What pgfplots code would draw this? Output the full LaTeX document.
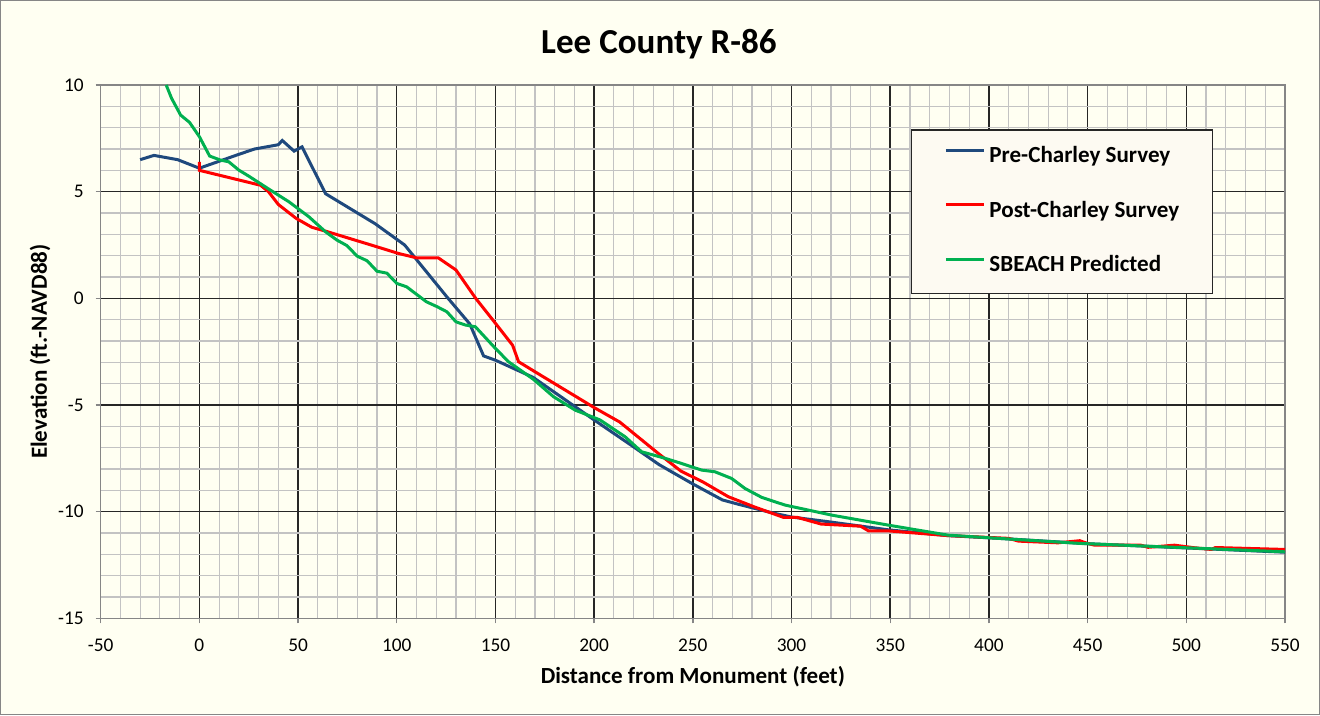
\documentclass[border=0pt]{standalone}
\usepackage{pgfplots}
\pgfplotsset{compat=1.18}
\usetikzlibrary{backgrounds}
\usepackage{fontspec}
\setmainfont{Carlito}
\definecolor{cream}{RGB}{255,255,242}
\definecolor{legbg}{RGB}{253,250,242}
\definecolor{preblue}{RGB}{31,73,125}
\definecolor{postred}{RGB}{255,0,0}
\definecolor{sbgreen}{RGB}{0,176,80}
\definecolor{minorgray}{RGB}{195,195,195}
\definecolor{framegray}{RGB}{134,134,134}
\begin{document}
\begin{tikzpicture}
\begin{axis}[
  scale only axis,
  width=888.2pt, height=400pt,
  xmin=-50, xmax=550, ymin=-15, ymax=10,
  xtick={-50,0,...,550}, ytick={-15,-10,...,10},
  minor x tick num=4, minor y tick num=4,
  grid=both,
  major grid style={black!85, line width=1.1pt},
  minor grid style={minorgray, line width=0.9pt},
  axis line style={framegray, line width=1.1pt},
  tick align=outside, major tick length=3.75pt, minor tick length=0pt,
  tick style={framegray, line width=1pt},
  xtick pos=bottom, ytick pos=left,
  ticklabel style={font=\fontsize{14.5}{16}\selectfont},
  xticklabel style={yshift=-8pt},
  yticklabel style={xshift=-5.5pt},
  /pgf/number format/assume math mode=true,
  xlabel={Distance from Monument (feet)},
  ylabel={Elevation (ft.-NAVD88)},
  label style={font=\bfseries\fontsize{17.3}{20}\selectfont},
  xlabel style={at={(axis description cs:0.5,-0.11)}, anchor=center},
  ylabel style={at={(axis description cs:-0.0512,0.5)}, anchor=center},
  legend style={at={(axis description cs:0.684,0.917)}, anchor=north west,
    draw=black!85, line width=1pt, fill=legbg,
    font=\bfseries\fontsize{17.3}{20}\selectfont,
    nodes={inner sep=0pt, text height=12pt, text depth=3.5pt},
    row sep=25.5pt, inner xsep=24.75pt, inner ysep=12.5pt,
    /tikz/every odd column/.append style={column sep=3pt}},
  legend cell align=left,
  legend image code/.code={\draw[#1, line width=2.25pt] (0pt,5pt) -- (28.5pt,5pt);},
  clip=true,
]
\addplot[preblue, line width=2.25pt] coordinates {
(-30,6.5)(-23,6.7)(-11,6.5)(0,6.1)(20,6.75)(28,7.0)(40,7.2)(42,7.4)(48,6.9)(52,7.1)(64,4.9)(89,3.5)(104,2.5)(126,0)(137,-1.2)(144,-2.7)(150,-2.9)(169,-3.7)(200,-5.7)(219,-6.9)(233,-7.8)(250,-8.7)(265,-9.45)(273,-9.65)(290,-10.05)(300,-10.25)(317,-10.45)(337,-10.7)(349,-10.85)(379,-11.12)(405,-11.25)(450,-11.5)(500,-11.7)(550,-11.9)
};
\addlegendentry{Pre-Charley Survey}
\addplot[postred, line width=2.25pt] coordinates {
(0,6.4)(0,6.0)(31,5.3)(35,5.0)(40,4.4)(49,3.75)(57,3.33)(65,3.12)(87,2.5)(101,2.1)(110,1.9)(121,1.9)(130,1.33)(140,0)(150,-1.17)(158.7,-2.2)(161.7,-2.97)(170,-3.44)(200,-5.12)(213,-5.8)(232.5,-7.27)(244,-8.1)(255,-8.6)(268,-9.3)(281,-9.77)(296,-10.27)(303,-10.27)(315,-10.58)(335,-10.68)(339,-10.9)(349,-10.9)(379,-11.12)(410,-11.25)(415,-11.38)(435,-11.46)(446,-11.36)(450,-11.49)(453.5,-11.57)(477,-11.57)(480.6,-11.67)(494,-11.57)(504,-11.69)(512.6,-11.77)(514.8,-11.68)(550,-11.77)
};
\addlegendentry{Post-Charley Survey}
\addplot[sbgreen, line width=2.25pt] coordinates {
(-16.8,10)(-14.1,9.38)(-9.5,8.59)(-5,8.25)(0,7.58)(5.2,6.67)(10.7,6.48)(14.9,6.4)(20,6.01)(25,5.73)(35.2,5.12)(45.3,4.53)(55.4,3.83)(63.9,3.12)(69.7,2.73)(74.8,2.47)(79.9,1.98)(85,1.76)(90,1.27)(95,1.18)(100,0.7)(105,0.54)(115,-0.16)(120.4,-0.39)(125.4,-0.63)(130,-1.1)(134.7,-1.25)(139.8,-1.33)(149.9,-2.34)(156.6,-2.97)(169.3,-3.8)(179.4,-4.61)(190.4,-5.24)(203,-5.7)(215.7,-6.49)(224,-7.19)(236,-7.5)(244.3,-7.74)(254.4,-8.05)(261.2,-8.13)(269.6,-8.44)(276.4,-8.91)(284.9,-9.33)(296.7,-9.69)(320.3,-10.16)(349,-10.63)(379.3,-11.1)(404.8,-11.25)(446.7,-11.49)(550,-11.88)
};
\addlegendentry{SBEACH Predicted}
\coordinate (ll) at (rel axis cs:0,0);
\coordinate (ur) at (rel axis cs:1,1);
\end{axis}
\node[font=\bfseries\fontsize{26.3}{31}\selectfont, anchor=center] at ([shift={(418.7pt,31pt)}]ll|-ur) {Lee County R-86};
\begin{scope}[on background layer]
\draw[fill=cream, draw=framegray, line width=0.8pt] ([shift={(-75.1pt,-72.1pt)}]ll) rectangle ([shift={(25.85pt,63.35pt)}]ur);
\end{scope}
\useasboundingbox ([shift={(-75.5pt,-72.5pt)}]ll) rectangle ([shift={(26.25pt,63.75pt)}]ur);
\end{tikzpicture}
\end{document}
